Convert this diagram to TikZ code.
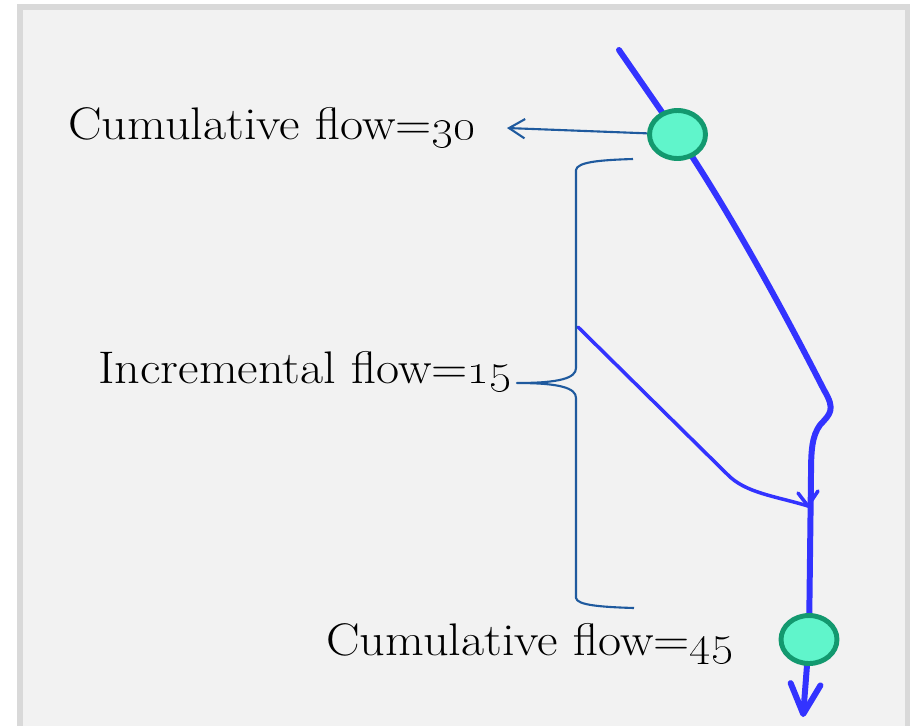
\documentclass[tikz,border=0pt]{standalone}
\usetikzlibrary{arrows.meta,shapes.geometric}
\definecolor{panelfill}{HTML}{F2F2F2}
\definecolor{panelborder}{HTML}{D9D9D9}
\definecolor{flowblue}{HTML}{3333FF}
\definecolor{darkline}{HTML}{1F5A9E}
\definecolor{nodefill}{HTML}{60F5CB}
\definecolor{nodeborder}{HTML}{13996F}
\newcommand{\widetext}[1]{\scalebox{1.1}[1]{#1}}
\tikzset{
  flownode/.style={ellipse, draw=nodeborder, fill=nodefill, line width=2.8pt,
    minimum width=1.12cm, minimum height=0.96cm, inner sep=0pt},
  bigline/.style={draw=flowblue, line width=3.4pt, line cap=round, line join=round},
  midline/.style={draw=flowblue, line width=2pt, line cap=round, line join=round},
  darkthin/.style={draw=darkline, line width=1.2pt},
  lbl/.style={inner sep=0pt, font=\fontsize{26}{31}\selectfont, text=black},
}
\begin{document}
\begin{tikzpicture}[x=0.02cm,y=-0.02cm]
\useasboundingbox (0,0) rectangle (910,725);
\clip (0,0) rectangle (910,725);
\fill[white] (0,0) rectangle (910,725);
\draw[panelborder, fill=panelfill, line width=3.4pt] (20,7) rectangle (907.5,760);

% coordinates
\coordinate (top) at (619,50);
\coordinate (tip) at (803,717);
\coordinate (a30) at (507,128);
\coordinate (c1) at (677.5,134.5);
\coordinate (c2) at (809,639.5);

% main flow line
\draw[bigline] (top) -- (c1) .. controls (705,175) and (755,255) .. (824,390)
  .. controls (836,410) and (830,414) .. (820,425)
  .. controls (812,436) and (811,450) .. (811,475) -- (c2);
\draw[bigline, -{Straight Barb[length=17pt,width=17pt,line cap=round,line join=round]}] (c2) -- (tip);

% incremental flow line
\coordinate (m0) at (578,327);
\coordinate (m1) at (727,474);
\coordinate (mt) at (808,506);
\coordinate (ma) at (798,493);
\coordinate (mb) at (818,491);
\draw[midline] (m0) -- (m1) .. controls (745,493) and (775,496) .. (mt);
\draw[midline] (ma) -- (mt) -- (mb);

% nodes
\node[flownode] (n1) at (c1) {};
\node[flownode] (n2) at (c2) {};

% arrow to label
\draw[darkthin, -{Straight Barb[length=9pt,width=11pt]}] (n1) -- (a30);

% brace
\draw[darkthin, line join=round] (633,159) .. controls (600,160) and (577,162) .. (576,170)
  -- (576,368) .. controls (576,378) and (560,383) .. (517,383)
  .. controls (560,383) and (576,388) .. (576,398)
  -- (576,598) .. controls (577,605) and (600,607) .. (634,608);

% labels
\node[lbl, anchor=base west] (t30) at (68,139) {\widetext{Cumulative flow=\oldstylenums{30}}};
\node[lbl, anchor=base west] (t15) at (98,383) {\widetext{Incremental flow=\oldstylenums{15}}};
\node[lbl, anchor=base west] (t45) at (326,655) {\widetext{Cumulative flow=\oldstylenums{45}}};
\end{tikzpicture}
\end{document}
